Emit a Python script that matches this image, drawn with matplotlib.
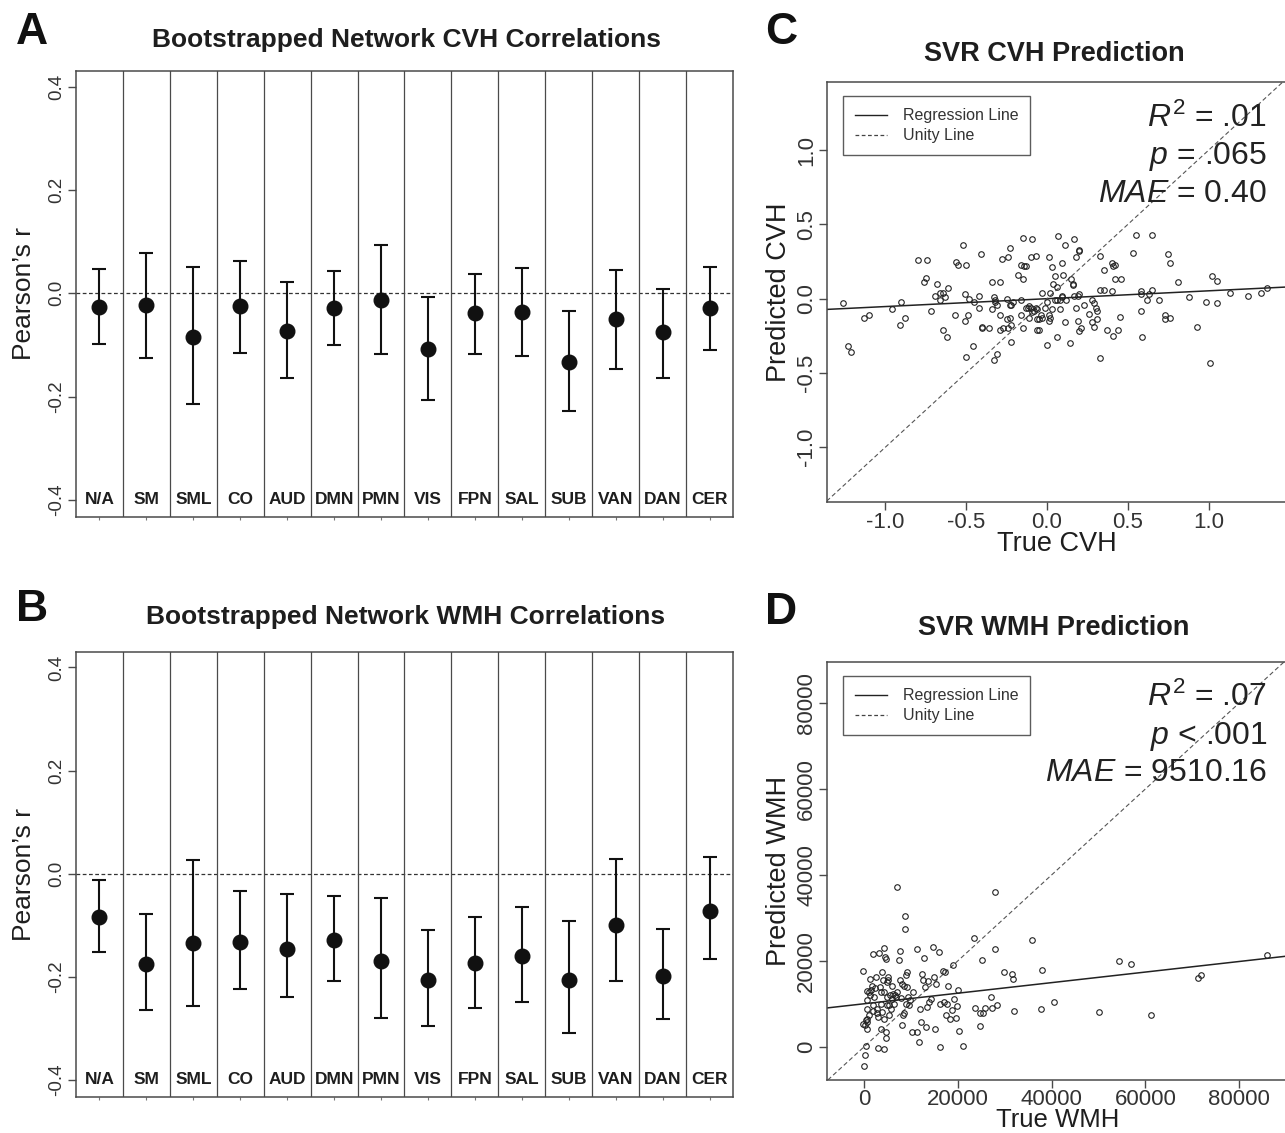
import numpy as np
import matplotlib
matplotlib.use('Agg')
import matplotlib.pyplot as plt
from matplotlib.lines import Line2D

plt.rcParams['font.family'] = ['Liberation Sans', 'DejaVu Sans']
plt.rcParams['mathtext.fontset'] = 'custom'
plt.rcParams['mathtext.rm'] = 'Liberation Sans'
plt.rcParams['mathtext.it'] = 'Liberation Sans:italic'

# ---- data: bootstrapped network correlations ----
networks = ['N/A', 'SM', 'SML', 'CO', 'AUD', 'DMN', 'PMN', 'VIS',
            'FPN', 'SAL', 'SUB', 'VAN', 'DAN', 'CER']

cvh_r = [-0.026, -0.023, -0.084, -0.025, -0.073, -0.028, -0.014, -0.107,
         -0.038, -0.036, -0.133, -0.050, -0.075, -0.028]
cvh_lo = [-0.099, -0.125, -0.215, -0.116, -0.165, -0.101, -0.118, -0.206,
          -0.117, -0.121, -0.228, -0.146, -0.164, -0.110]
cvh_hi = [0.046, 0.077, 0.051, 0.062, 0.021, 0.043, 0.093, -0.008,
          0.037, 0.049, -0.034, 0.045, 0.008, 0.051]

wmh_r = [-0.084, -0.176, -0.134, -0.132, -0.146, -0.128, -0.170, -0.206,
         -0.174, -0.159, -0.206, -0.099, -0.199, -0.073]
wmh_lo = [-0.151, -0.265, -0.257, -0.223, -0.240, -0.209, -0.280, -0.295,
          -0.261, -0.248, -0.309, -0.208, -0.282, -0.166]
wmh_hi = [-0.012, -0.078, 0.026, -0.033, -0.039, -0.043, -0.048, -0.109,
          -0.083, -0.065, -0.091, 0.029, -0.108, 0.032]

# ---- data: SVR CVH prediction ----
cvh_true = [-1.26, -1.23, -1.21, -1.13, -1.10, -0.96, -0.91, -0.90, -0.88, -0.80,
            -0.76, -0.75, -0.74, -0.72, -0.69, -0.68, -0.66, -0.66, -0.64, -0.64,
            -0.63, -0.62, -0.61, -0.57, -0.56, -0.55, -0.52, -0.51, -0.51, -0.50,
            -0.50, -0.49, -0.48, -0.46, -0.45, -0.42, -0.42, -0.41, -0.40, -0.40,
            -0.36, -0.34, -0.34, -0.33, -0.32, -0.32, -0.31, -0.31, -0.33, -0.29,
            -0.29, -0.29, -0.28, -0.27, -0.25, -0.25, -0.24, -0.24, -0.23, -0.23,
            -0.23, -0.22, -0.22, -0.22, -0.21, -0.18, -0.16, -0.16, -0.15, -0.15,
            -0.15, -0.16, -0.14, -0.13, -0.13, -0.12, -0.11, -0.11, -0.10, -0.10,
            -0.09, -0.09, -0.08, -0.07, -0.07, -0.06, -0.06, -0.06, -0.05, -0.05,
            -0.04, -0.03, -0.03, -0.01, -0.00, 0.00, 0.01, 0.01, 0.01, 0.02,
            0.02, 0.03, 0.03, 0.04, 0.05, 0.05, 0.06, 0.06, 0.06, 0.07,
            0.08, 0.08, 0.09, 0.09, 0.09, 0.10, 0.11, 0.11, 0.12, 0.14,
            0.15, 0.16, 0.16, 0.17, 0.17, 0.18, 0.18, 0.19, 0.19, 0.20,
            0.20, 0.20, 0.20, 0.21, 0.23, 0.26, 0.28, 0.28, 0.29, 0.29,
            0.30, 0.31, 0.31, 0.33, 0.33, 0.33, 0.35, 0.35, 0.37, 0.40,
            0.40, 0.41, 0.41, 0.42, 0.42, 0.44, 0.45, 0.46, 0.53, 0.55,
            0.58, 0.58, 0.58, 0.59, 0.62, 0.63, 0.65, 0.65, 0.69, 0.73,
            0.73, 0.75, 0.76, 0.76, 0.81, 0.88, 0.93, 0.98, 1.01, 1.02,
            1.05, 1.05, 1.13, 1.24, 1.32, 1.36]
cvh_pred = [-0.03, -0.32, -0.36, -0.13, -0.11, -0.07, -0.18, -0.02, -0.13, 0.26,
            0.11, 0.14, 0.26, -0.08, 0.02, 0.10, 0.04, -0.01, 0.04, -0.21,
            0.01, -0.26, 0.07, -0.11, 0.25, 0.23, 0.36, 0.03, -0.15, 0.23,
            -0.39, -0.11, -0.00, -0.32, -0.02, 0.02, -0.06, 0.30, -0.20, -0.19,
            -0.20, -0.07, 0.11, 0.01, -0.01, -0.02, -0.04, -0.37, -0.41, 0.11,
            -0.11, -0.21, 0.27, -0.20, -0.00, -0.14, -0.20, 0.28, -0.04, 0.34,
            -0.13, -0.18, -0.29, -0.04, -0.02, 0.16, -0.01, -0.11, -0.20, 0.13,
            0.41, 0.23, 0.22, 0.22, -0.06, -0.06, -0.05, -0.13, -0.06, 0.28,
            0.40, -0.09, -0.08, 0.29, -0.06, -0.14, -0.07, -0.21, -0.14, -0.21,
            -0.11, 0.04, -0.13, -0.06, -0.31, -0.02, -0.11, -0.15, 0.28, -0.13,
            0.04, -0.07, 0.21, 0.10, -0.01, 0.15, 0.08, -0.01, -0.26, 0.42,
            -0.07, -0.01, 0.24, 0.01, 0.02, 0.16, -0.16, 0.36, -0.01, -0.30,
            0.13, 0.10, 0.09, 0.02, 0.40, -0.06, 0.28, -0.15, 0.02, 0.33,
            0.32, 0.03, -0.22, -0.20, -0.04, -0.10, -0.16, -0.01, -0.03, -0.19,
            -0.06, -0.08, -0.14, 0.06, 0.29, -0.40, 0.06, 0.19, -0.21, 0.05,
            0.24, 0.22, -0.25, 0.23, 0.13, -0.21, -0.12, 0.13, 0.31, 0.43,
            -0.08, 0.05, 0.03, -0.26, -0.01, 0.03, 0.06, 0.43, -0.01, -0.11,
            -0.14, 0.30, 0.24, -0.13, 0.11, 0.01, -0.19, -0.02, -0.43, 0.15,
            0.12, -0.03, 0.04, 0.02, 0.04, 0.07]
cvh_fit = (0.0, 0.053)  # intercept, slope
cvh_stats = ['$\\mathit{R}^2$ = .01', '$\\mathit{p}$ = .065', '$\\mathit{MAE}$ = 0.40']

# ---- data: SVR WMH prediction ----
wmh_true = [-200, 0, 200, 400, 500, 600, -200, 100, 400, 600,
            900, 500, 600, 900, 500, 1100, 1200, 1400, 1600, 1800,
            1900, 2100, 2300, 1800, 2400, 2600, 2800, 3000, 3000, 3200,
            3300, 3500, 3600, 3600, 3700, 3800, 3900, 4100, 4200, 4300,
            4300, 4500, 4600, 4600, 4600, 4800, 4800, 4900, 5000, 5100,
            5200, 5300, 5500, 5600, 5800, 6000, 6200, 6300, 6500, 6800,
            6900, 7000, 7500, 7600, 7600, 7800, 8000, 8000, 8300, 8400,
            8500, 8600, 8600, 8800, 8900, 9000, 9200, 9400, 9500, 9800,
            10100, 10300, 11200, 11200, 11700, 11900, 12200, 12400, 12600, 12800,
            13000, 13200, 13300, 13600, 13900, 14200, 14700, 14900, 15100, 15300,
            15900, 16200, 16200, 16700, 16900, 17300, 17400, 17700, 17900, 18300,
            18700, 19000, 19200, 19600, 19700, 20000, 20200, 21100, 23400, 23600,
            24600, 24700, 25100, 25400, 25800, 27000, 27200, 27900, 28000, 28400,
            29900, 31500, 31800, 32000, 35700, 37800, 38000, 40500, 50200, 54300,
            56900, 61200, 71200, 71900, 86000]
wmh_pred = [17700, -4500, -1900, 200, 4200, 5700, 5300, 5000, 6100, 6500,
            7300, 8800, 10800, 12700, 12900, 15800, 11900, 13100, 14100, 9600,
            8200, 11500, 13600, 21600, 16200, 8800, 7700, 6900, -300, 21800,
            13800, 12700, 4200, 10000, 17300, 8000, 15400, -500, 6500, 12700,
            23000, 20800, 20300, 3400, 1900, 15000, 11500, 9600, 16200, 15400,
            9600, 7300, 11900, 8800, 14200, 11100, 12300, 10000, 11900, 11500,
            12700, 37100, 20200, 22200, 15400, 11300, 14600, 5000, 7300, 14200,
            7700, 30500, 27500, 16600, 10000, 13800, 17300, 11500, 9600, 10800,
            3400, 12700, 3400, 22700, 1100, 8800, 5700, 16900, 15400, 20600,
            13800, 4600, 9200, 15200, 10400, 11100, 23100, 16200, 4200, 14600,
            22000, -100, 10000, 17600, 10400, 17300, 7300, 10000, 14000, 6500,
            8400, 19000, 11100, 6700, 9400, 13100, 3700, 200, 25200, 9000,
            7700, 4800, 20100, 7900, 9000, 11500, 9000, 22700, 36100, 9700,
            17300, 16900, 15800, 8300, 24800, 8800, 17900, 10400, 8000, 20000,
            19200, 7400, 15900, 16600, 21400]
wmh_fit = (9970, 0.123)
wmh_stats = ['$\\mathit{R}^2$ = .07', '$\\mathit{p}$ < .001', '$\\mathit{MAE}$ = 9510.16']

W, H = 1285, 1133
TXT = '#1e1e1e'
SPINE = '#4a4a4a'

fig = plt.figure(figsize=(W / 100, H / 100), dpi=100, facecolor='white')


def px_axes(left, top, right, bottom):
    return fig.add_axes([left / W, 1 - bottom / H, (right - left) / W, (bottom - top) / H])


def network_panel(ax, r, lo, hi):
    x = np.arange(1, len(networks) + 1)
    r = np.array(r)
    err = [r - np.array(lo), np.array(hi) - r]
    ax.axhline(0, color='#333333', lw=0.9, ls=(0, (3, 2)), zorder=1)
    for b in np.arange(1.5, len(networks), 1.0):
        ax.axvline(b, color=SPINE, lw=0.9, zorder=1)
    ax.errorbar(x, r, yerr=err, fmt='o', color='#111111', ms=10.5,
                elinewidth=1.5, capsize=5, capthick=1.5, zorder=3)
    for xi, name in zip(x, networks):
        ax.text(xi, -0.4, name, ha='center', va='center', fontsize=12.5,
                fontweight='bold', color=TXT)
    ax.set_xlim(0.5, len(networks) + 0.5)
    ax.set_ylim(-0.433, 0.43)
    ax.set_xticks(x)
    ax.set_xticklabels([])
    ax.tick_params(axis='x', length=2, color='#777777')
    ax.set_yticks([-0.4, -0.2, 0.0, 0.2, 0.4])
    ax.set_yticklabels(['-0.4', '-0.2', '0.0', '0.2', '0.4'], fontsize=13.5,
                       color='#333333')
    for lab in ax.get_yticklabels():
        lab.set_rotation(90)
        lab.set_va('center')
    ax.tick_params(axis='y', length=5.5, width=1, color=SPINE, pad=2)
    for s in ax.spines.values():
        s.set_color(SPINE)
        s.set_linewidth(1.1)
    ax.set_ylabel('Pearson\u2019s r', fontsize=19, color=TXT, labelpad=9)


def svr_panel(ax, xt, yp, fit, stats, xlim, ylim, ticks, ticklabels, xlabel, ylabel,
              xlabelpad=-1, xlabelsize=19.5):
    ax.plot(xt, yp, 'o', mfc='none', mec='#222222', ms=4, mew=0.8, zorder=3)
    ax.axline((0, fit[0]), slope=fit[1], color='#222222', lw=1.1)
    ax.axline((0, 0), slope=1, color='#555555', lw=0.8, ls=(0, (4, 2.5)))
    ax.set_xlim(*xlim)
    ax.set_ylim(*ylim)
    ax.set_xticks(ticks)
    ax.set_xticklabels(ticklabels, fontsize=16, color='#333333')
    ax.set_yticks(ticks)
    ax.set_yticklabels(ticklabels, fontsize=16, color='#333333')
    for lab in ax.get_yticklabels():
        lab.set_rotation(90)
        lab.set_va('center')
    ax.tick_params(length=5.8, width=1, color=SPINE, pad=1)
    for s in ax.spines.values():
        s.set_color(SPINE)
        s.set_linewidth(1.1)
    ax.set_xlabel(xlabel, fontsize=xlabelsize, color=TXT, labelpad=xlabelpad)
    ax.set_ylabel(ylabel, fontsize=19.5, color=TXT, labelpad=3)
    handles = [Line2D([], [], color='#222222', lw=1.0),
               Line2D([], [], color='#444444', lw=0.9, ls=(0, (3, 2)))]
    leg = ax.legend(handles, ['Regression Line', 'Unity Line'], loc='upper left',
                    bbox_to_anchor=(0.035, 0.965), borderaxespad=0, fontsize=11.5,
                    frameon=True, fancybox=False, edgecolor='#333333',
                    handlelength=2.0, labelspacing=0.3, borderpad=0.75,
                    handletextpad=1.0)
    leg.get_frame().set_linewidth(1.0)
    for t in leg.get_texts():
        t.set_color('#333333')
    for i, s in enumerate(stats):
        ax.text(0.955, 0.893 - i * 0.089, s, transform=ax.transAxes, ha='right',
                va='baseline', fontsize=23, color='#222222')


# Panel A
axA = px_axes(76, 71, 733, 517)
network_panel(axA, cvh_r, cvh_lo, cvh_hi)
# Panel B
axB = px_axes(76, 652, 733, 1097)
network_panel(axB, wmh_r, wmh_lo, wmh_hi)

# Panel C
axC = px_axes(826.7, 81.7, 1288, 502.3)
svr_panel(axC, cvh_true, cvh_pred, cvh_fit, cvh_stats,
          (-1.362, 1.49), (-1.37, 1.46),
          [-1.0, -0.5, 0.0, 0.5, 1.0], ['-1.0', '-0.5', '0.0', '0.5', '1.0'],
          'True CVH', 'Predicted CVH')
# Panel D
axD = px_axes(826.7, 661.7, 1288, 1080)
svr_panel(axD, wmh_true, wmh_pred, wmh_fit, wmh_stats,
          (-8042, 90460), (-7800, 89670),
          [0, 20000, 40000, 60000, 80000], ['0', '20000', '40000', '60000', '80000'],
          'True WMH', 'Predicted WMH', xlabelpad=-2, xlabelsize=18.5)

# titles and panel letters
fig.text(406 / W, 1 - 40 / H, 'Bootstrapped Network CVH Correlations', ha='center',
         va='center', fontsize=19, fontweight='bold', color=TXT)
fig.text(406 / W, 1 - 617 / H, 'Bootstrapped Network WMH Correlations', ha='center',
         va='center', fontsize=19, fontweight='bold', color=TXT)
fig.text(1054 / W, 1 - 54 / H, 'SVR CVH Prediction', ha='center', va='center',
         fontsize=19.5, fontweight='bold', color=TXT)
fig.text(1054 / W, 1 - 628 / H, 'SVR WMH Prediction', ha='center', va='center',
         fontsize=19.5, fontweight='bold', color=TXT)
for letter, x, y in [('A', 32, 32), ('B', 32, 609), ('C', 781, 33), ('D', 781, 613)]:
    fig.text(x / W, 1 - y / H, letter, ha='center', va='center', fontsize=32,
             fontweight='bold', color='#111111')

fig.savefig('out.png', dpi=100)
